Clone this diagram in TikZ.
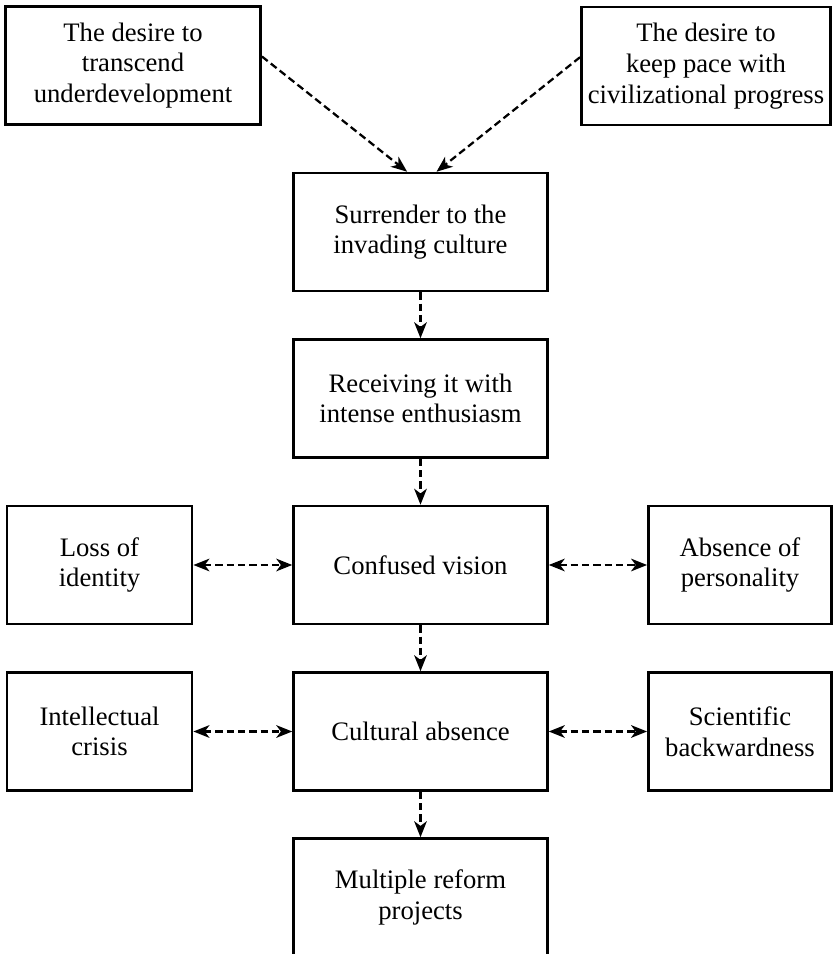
\documentclass[tikz,border=0pt]{standalone}
\usepackage{fontspec}
\setmainfont{Liberation Serif}
\usetikzlibrary{arrows.meta}
\begin{document}
\begin{tikzpicture}[x=0.75pt,y=-0.75pt,
  box/.style={draw,line width=1.9pt,align=center,inner sep=0pt,
    minimum height=88.5pt,font=\fontsize{20}{23}\selectfont},
  widebox/.style={box,minimum width=190.5pt},
  sidebox/.style={box,minimum width=139pt},
  conn/.style={line width=1.7pt,dash pattern=on 5.5pt off 3pt,
    -{Stealth[length=12pt,width=9.5pt,inset=3.5pt]}},
  biconn/.style={conn,{Stealth[length=12pt,width=9.5pt,inset=3.5pt]}-{Stealth[length=12pt,width=9.5pt,inset=3.5pt]}}]
\useasboundingbox (0,0) rectangle (833,954);
\node[box,minimum width=191.5pt] (A) at (133,65.5) {The desire to\\transcend\\underdevelopment};
\node[box,minimum width=187pt] (B) at (706,66) {The desire to\\keep pace with\\civilizational progress};
\node[widebox] (S) at (420.5,232) {Surrender to the\\invading culture};
\node[widebox] (R) at (420.5,398.5) {Receiving it with\\intense enthusiasm};
\node[widebox] (C) at (420.5,565) {Confused vision};
\node[sidebox] (L) at (99.5,565) {Loss of\\identity};
\node[sidebox,minimum width=137.5pt] (P) at (740,565) {Absence of\\personality};
\node[widebox] (CA) at (420.5,731.5) {Cultural absence};
\node[sidebox] (IC) at (99.5,731.5) {Intellectual\\crisis};
\node[sidebox,minimum width=137.5pt] (SB) at (740,731.5) {Scientific\\backwardness};
\node[widebox] (M) at (420.5,897.5) {Multiple reform\\projects};
\coordinate (Sl) at ([xshift=-10pt]S.north);
\coordinate (Sr) at ([xshift=12pt]S.north);
\draw[conn] (A.4) -- (Sl);
\draw[conn] (B.176) -- (Sr);
\draw[conn] (S) -- (R);
\draw[conn] (R) -- (C);
\draw[conn] (C) -- (CA);
\draw[conn] (CA) -- (M);
\draw[biconn] (L) -- (C);
\draw[biconn] (C) -- (P);
\draw[biconn] (IC) -- (CA);
\draw[biconn] (CA) -- (SB);
\end{tikzpicture}
\end{document}
